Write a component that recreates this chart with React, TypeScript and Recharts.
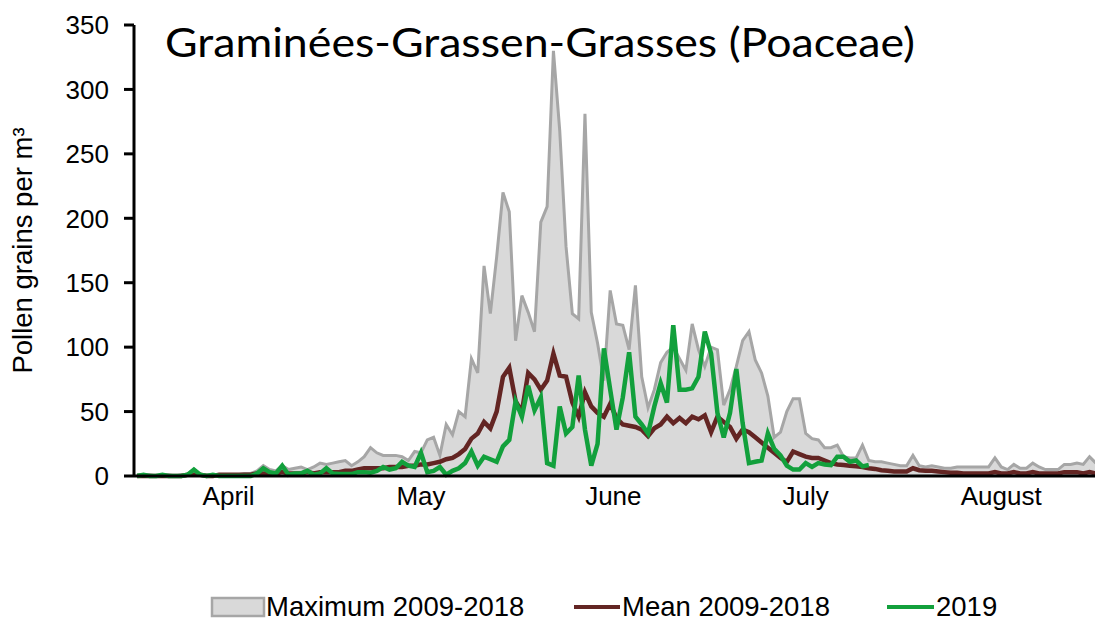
import React from "react";
import { ComposedChart, Area, Line, XAxis, YAxis } from "recharts";

const months = ["April", "May", "June", "July", "August"];
const monthLengths = [30, 31, 30, 31, 31];
const yTicks = [0, 50, 100, 150, 200, 250, 300, 350];

// daily values, 1 April - 31 August
const maxValues = [
  1, 1, 1, 0, 1, 1, 0, 1, 1, 5,
  1, 1, 1, 1, 1, 1, 1, 2, 2, 4,
  8, 5, 4, 8, 5, 6, 7, 5, 7, 10,
  9, 10, 11, 12, 8, 11, 15, 22, 18, 16,
  16, 16, 15, 12, 19, 18, 28, 30, 16, 40,
  32, 50, 46, 91, 80, 163, 126, 170, 220, 205,
  105, 140, 127, 112, 197, 209, 330, 268, 178, 126,
  122, 281, 127, 103, 74, 144, 118, 117, 98, 148,
  77, 53, 67, 88, 96, 100, 91, 82, 118, 98,
  85, 100, 98, 55, 67, 85, 105, 112, 90, 80,
  62, 30, 34, 50, 60, 60, 33, 29, 28, 22,
  22, 24, 15, 14, 14, 24, 12, 11, 11, 10,
  9, 8, 8, 16, 8, 7, 8, 7, 6, 6,
  7, 7, 7, 7, 7, 7, 14, 7, 5, 9,
  6, 6, 10, 7, 5, 5, 5, 9, 9, 10,
  9, 15, 10,
];

const meanValues = [
  0, 0, 0, 0, 0, 0, 0, 0, 1, 1,
  1, 0, 0, 1, 1, 1, 1, 1, 1, 2,
  2, 2, 2, 3, 2, 2, 2, 3, 2, 3,
  3, 3, 3, 4, 4, 5, 6, 6, 6, 6,
  7, 7, 7, 8, 8, 9, 9, 10, 11, 13,
  14, 17, 21, 29, 33, 42, 37, 50, 77, 84,
  58, 50, 80, 75, 67, 74, 95, 78, 77, 57,
  46, 65, 54, 49, 46, 56, 45, 40, 39, 38,
  36, 31, 37, 40, 46, 41, 45, 41, 46, 44,
  47, 34, 46, 42, 38, 29, 36, 34, 30, 26,
  22, 18, 14, 11, 19, 17, 15, 14, 14, 12,
  10, 9, 8.5, 8, 7.5, 7, 6, 5.5, 4.5, 4,
  3.5, 3.5, 3.5, 6, 4.5, 4, 4, 3.5, 3, 2.5,
  2.5, 2, 2, 2, 2, 2, 3, 2, 2, 3,
  2, 2, 3, 2, 2, 2, 2, 3, 3, 3,
  2, 3, 2,
];

// 2019 season stops mid-July
const values2019 = [
  0, 1, 0, 0, 1, 0, 0, 0, 1, 5,
  1, 0, 1, 0, 0, 0, 0, 0, 0, 2,
  6, 3, 2, 8, 1, 2, 2, 4, 1, 2,
  6, 2, 1.5, 1.5, 1.5, 3, 3, 2.5, 4, 7,
  5, 6, 11, 8, 7, 18, 3, 4, 7, 1,
  4, 6, 10, 19, 8, 15, 13, 11, 23, 28,
  58, 46, 70, 51, 61, 10, 8, 54, 33, 38,
  78, 36, 8, 25, 99, 67, 36, 61, 96, 46,
  40, 33, 54, 72, 57, 117, 67, 67, 68, 77,
  112, 95, 49, 30, 49, 83, 41, 10, 11, 12,
  33, 21, 16, 8, 5, 5, 10, 7, 10, 9,
  8.5, 15, 15, 11, 12, 7.5, 8.5,
];

const data = maxValues.map((m, i) => ({
  day: i + 0.5,
  max: m,
  mean: meanValues[i],
  y2019: i < values2019.length ? values2019[i] : null,
}));

const boundaries = monthLengths.reduce<number[]>((acc, n) => [...acc, acc[acc.length - 1] + n], [0]);
const centers = monthLengths.map((n, i) => boundaries[i] + n / 2);
const totalDays = boundaries[boundaries.length - 1];

const arial = "'Liberation Sans', Arial, sans-serif";
const tickStyle = { fill: "#000", fontSize: 26, fontFamily: arial };

const GRAY_FILL = "#d9d9d9";
const GRAY_LINE = "#a6a6a6";
const MEAN_COLOR = "#632523";
const GREEN = "#12a03c";

export default function App() {
  return (
    <div
      style={{
        position: "fixed",
        left: 0,
        top: 0,
        width: 1095,
        height: 623,
        overflow: "hidden",
        background: "#fff",
      }}
    >
      <ComposedChart
        width={1100}
        height={623}
        data={data}
        margin={{ top: 25, right: 1, left: 0, bottom: 99 }}
      >
        <XAxis
          type="number"
          dataKey="day"
          domain={[0, totalDays]}
          ticks={boundaries}
          interval={0}
          tick={false}
          tickSize={8}
          height={8}
          axisLine={{ stroke: "#000", strokeWidth: 3 }}
          tickLine={{ stroke: "#000", strokeWidth: 3 }}
        />
        <XAxis
          xAxisId="months"
          type="number"
          dataKey="day"
          domain={[0, totalDays]}
          ticks={centers}
          interval={0}
          tickFormatter={(_v: number, i: number) => months[i]}
          axisLine={false}
          tickLine={false}
          tickSize={0}
          tickMargin={3}
          height={40}
          tick={tickStyle}
        />
        <YAxis
          type="number"
          domain={[0, 350]}
          ticks={yTicks}
          interval={0}
          width={134}
          tickSize={10}
          tickMargin={15}
          axisLine={{ stroke: "#000", strokeWidth: 3 }}
          tickLine={{ stroke: "#000", strokeWidth: 3 }}
          tick={tickStyle}
          label={{
            value: "Pollen grains per m³",
            angle: -90,
            position: "center",
            dx: -45,
            style: { fill: "#000", fontSize: 27.5, fontFamily: arial },
          }}
        />
        <Area
          type="linear"
          dataKey="max"
          fill={GRAY_FILL}
          fillOpacity={1}
          stroke={GRAY_LINE}
          strokeWidth={3}
          dot={false}
          activeDot={false}
          isAnimationActive={false}
        />
        <Line
          type="linear"
          dataKey="mean"
          stroke={MEAN_COLOR}
          strokeWidth={4.5}
          dot={false}
          activeDot={false}
          isAnimationActive={false}
        />
        <Line
          type="linear"
          dataKey="y2019"
          stroke={GREEN}
          strokeWidth={4.5}
          dot={false}
          activeDot={false}
          isAnimationActive={false}
        />
      </ComposedChart>

      {/* title and legend */}
      <svg
        width={1095}
        height={623}
        style={{ position: "absolute", left: 0, top: 0, pointerEvents: "none" }}
      >
        <text
          x={165}
          y={57}
          fontFamily="Lato, 'Open Sans', sans-serif"
          fontSize={40}
          textLength={750}
          lengthAdjust="spacingAndGlyphs"
          fill="#000"
        >
          Graminées-Grassen-Grasses (Poaceae)
        </text>
        <g fontFamily={arial} fontSize={27.5} fill="#000">
          <rect x={212} y={598} width={52} height={18} fill={GRAY_FILL} stroke={GRAY_LINE} strokeWidth={2.5} />
          <text x={266} y={616}>Maximum 2009-2018</text>
          <line x1={574} x2={620} y1={607} y2={607} stroke={MEAN_COLOR} strokeWidth={4} />
          <text x={622} y={616}>Mean 2009-2018</text>
          <line x1={887} x2={934} y1={607} y2={607} stroke={GREEN} strokeWidth={4} />
          <text x={936} y={616}>2019</text>
        </g>
      </svg>
    </div>
  );
}
